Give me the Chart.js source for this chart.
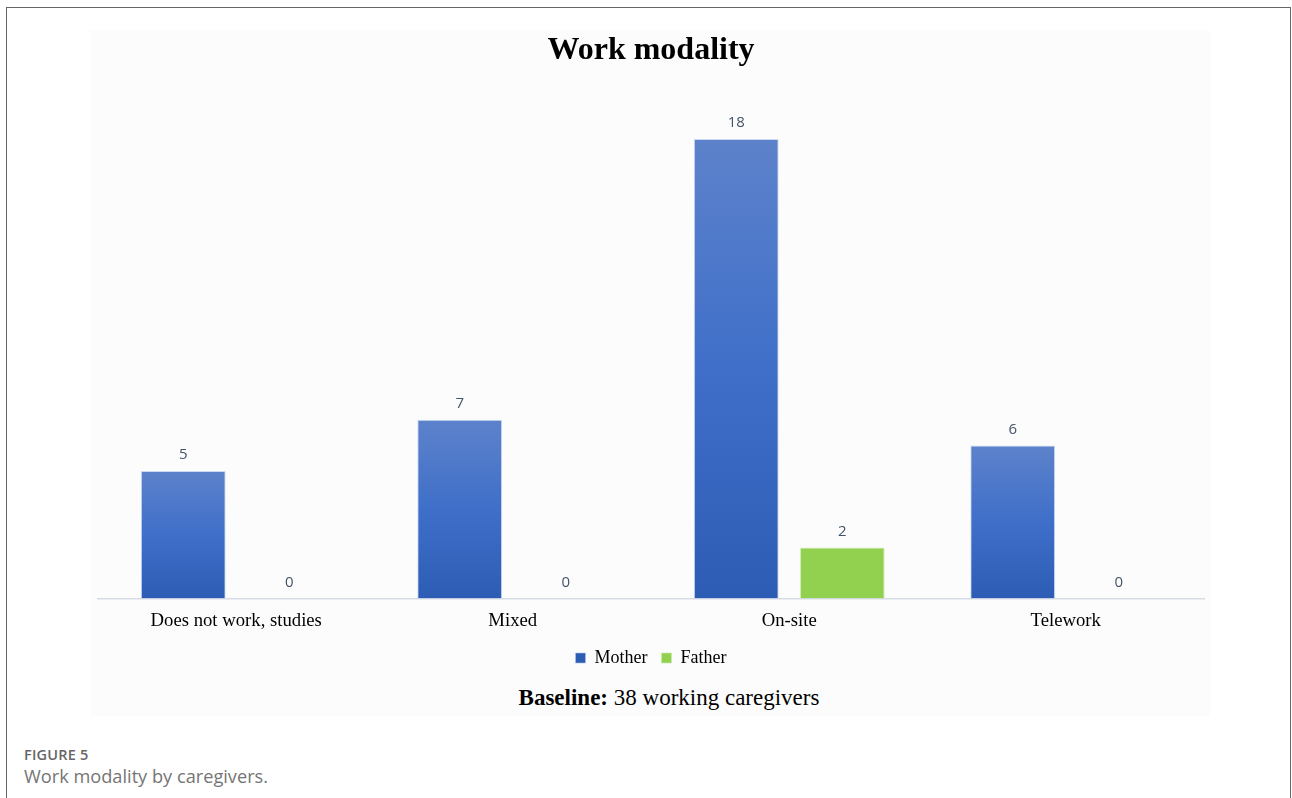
<!DOCTYPE html>
<html>
<head>
<meta charset="utf-8">
<script src="https://cdn.jsdelivr.net/npm/chart.js@4/dist/chart.umd.min.js"></script>
<style>
  html, body { margin: 0; padding: 0; background: #fff; }
  body { width: 1292px; height: 798px; position: relative; overflow: hidden; }
  #frame { position: absolute; left: 6px; top: 7px; width: 1283px; height: 820px;
           border-left: 1.5px solid #666; border-top: 1.5px solid #666; border-right: 1.5px solid #666; }
  #panel { position: absolute; left: 90px; top: 30px; width: 1120px; height: 686px; background: #fcfcfc; }
  #wrap { position: absolute; left: 0; top: 0; width: 1292px; height: 677px; }
  #baseline { position: absolute; left: 0; width: 1338px; top: 685px; text-align: center;
              font-family: "Liberation Serif", "Times New Roman", serif; font-size: 23px; color: #000; }
  #figlabel { position: absolute; left: 24px; top: 745px; font-family: "Open Sans", sans-serif;
              font-size: 14.5px; font-weight: 600; color: #666; letter-spacing: 0.2px; }
  #figcap { position: absolute; left: 24px; top: 764px; font-family: "Open Sans", sans-serif;
            font-size: 18.2px; color: #757575; }
</style>
</head>
<body>
<div id="frame"></div>
<div id="panel"></div>
<div id="wrap"><canvas id="c"></canvas></div>
<div id="baseline"><b>Baseline:</b> 38 working caregivers</div>
<div id="figlabel">FIGURE 5</div>
<div id="figcap">Work modality by caregivers.</div>
<script>
const categories = ["Does not work, studies", "Mixed", "On-site", "Telework"];
const motherValues = [5, 7, 18, 6];
const fatherValues = [0, 0, 2, 0];
const seriesNames = ["Mother", "Father"];
const chartTitle = "Work modality";

function blueGradient(ctx) {
  const chart = ctx.chart;
  if (!chart.chartArea || ctx.type !== 'data') return '#4472c4';
  const y = chart.scales.y;
  const top = y.getPixelForValue(ctx.raw);
  const bottom = y.getPixelForValue(0);
  if (!(bottom > top)) return '#4472c4';
  const g = chart.ctx.createLinearGradient(0, top, 0, bottom);
  g.addColorStop(0, '#5d82cb');
  g.addColorStop(0.5, '#3f6fc9');
  g.addColorStop(1, '#2d5cb4');
  return g;
}

const valueLabels = {
  id: 'valueLabels',
  afterDatasetsDraw(chart) {
    const ctx = chart.ctx;
    ctx.save();
    ctx.font = '15px "Open Sans", sans-serif';
    ctx.fillStyle = '#44546a';
    ctx.textAlign = 'center';
    ctx.textBaseline = 'middle';
    chart.data.datasets.forEach((ds, i) => {
      const meta = chart.getDatasetMeta(i);
      meta.data.forEach((el, j) => {
        ctx.fillText(String(ds.data[j]), el.x, el.y - 16);
      });
    });
    ctx.restore();
  }
};

new Chart(document.getElementById('c'), {
  type: 'bar',
  data: {
    labels: categories,
    datasets: [
      { label: seriesNames[0], data: motherValues, backgroundColor: blueGradient,
        borderColor: 'rgba(170,195,235,0.6)', borderWidth: 1, borderSkipped: 'bottom',
        barPercentage: 0.8, categoryPercentage: 0.767 },
      { label: seriesNames[1], data: fatherValues, backgroundColor: '#92d050',
        borderColor: 'rgba(200,235,170,0.7)', borderWidth: 1, borderSkipped: 'bottom',
        barPercentage: 0.8, categoryPercentage: 0.767 }
    ]
  },
  options: {
    responsive: true,
    maintainAspectRatio: false,
    animation: false,
    layout: { padding: { left: 98, right: 88, top: 0, bottom: 0 } },
    plugins: {
      title: {
        display: true, text: chartTitle, color: '#000',
        font: { family: '"Liberation Serif", "Times New Roman", serif', size: 32, weight: 'bold', lineHeight: 1.2 },
        padding: { top: 32, bottom: 17.6 }
      },
      legend: {
        display: true, position: 'bottom',
        labels: {
          boxWidth: 10, boxHeight: 10, padding: 14, color: '#000',
          font: { family: '"Liberation Serif", "Times New Roman", serif', size: 18 }
        }
      },
      tooltip: { enabled: false }
    },
    scales: {
      x: {
        grid: { display: false, drawTicks: false },
        border: { display: true, color: '#d6dce6', width: 1.5 },
        ticks: { color: '#000', padding: 11,
          font: { family: '"Liberation Serif", "Times New Roman", serif', size: 18.7, lineHeight: 1.2 } },
        afterFit(scale) { scale.height -= 8; }
      },
      y: {
        display: false, min: 0, max: 20
      }
    }
  },
  plugins: [valueLabels]
});
</script>
</body>
</html>
